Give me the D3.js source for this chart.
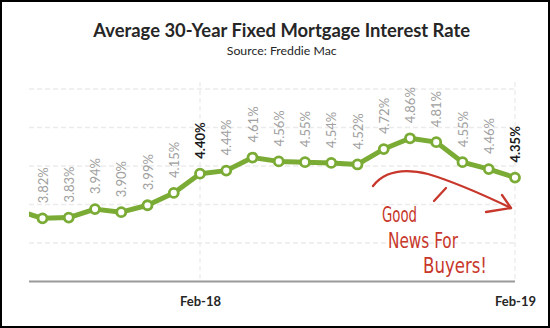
<!DOCTYPE html>
<html>
<head>
<meta charset="utf-8">
<script src="https://cdn.jsdelivr.net/npm/d3@7"></script>
<style>
  html, body { margin: 0; padding: 0; background: #fff; }
  svg { display: block; }
</style>
</head>
<body>
<script>
// ---- data ----
const months = ["Jul-17","Aug-17","Sep-17","Oct-17","Nov-17","Dec-17","Jan-18","Feb-18",
                "Mar-18","Apr-18","May-18","Jun-18","Jul-18","Aug-18","Sep-18","Oct-18",
                "Nov-18","Dec-18","Jan-19","Feb-19"];
const rates = [3.93, 3.82, 3.83, 3.94, 3.90, 3.99, 4.15, 4.40,
               4.44, 4.61, 4.56, 4.55, 4.54, 4.52, 4.72, 4.86,
               4.81, 4.55, 4.46, 4.35];
const labelled = [false, true, true, true, true, true, true, true,
                  true, true, true, true, true, true, true, true,
                  true, true, true, true];
const boldMonths = ["Feb-18", "Feb-19"];
const tickLabels = ["Feb-18", "Feb-19"];
const gridValues = [3.5, 4.0, 4.5, 5.0, 5.5];
const titleText = "Average 30-Year Fixed Mortgage Interest Rate";
const subtitleText = "Source: Freddie Mac";
const noteLines = ["Good", "News For", "Buyers!"];

// ---- layout ----
const W = 550, H = 328;
const plotLeft = 29, plotRight = 515, plotTop = 82, plotBottom = 281.5;
const green = "#7aab34", red = "#c8372b";

const svg = d3.select("body").append("svg").attr("width", W).attr("height", H);
svg.append("rect").attr("x", 1).attr("y", 1).attr("width", W - 2).attr("height", H - 2)
  .attr("fill", "#fff").attr("stroke", "#000").attr("stroke-width", 2);

const x = d3.scalePoint().domain(months).range([16.25, 515]);
const y = d3.scaleLinear().domain([3.0, 5.5]).range([plotBottom, 89]);

// title
function fitText(sel, target) {
  const w = sel.node().getComputedTextLength();
  const fs = parseFloat(sel.attr("font-size"));
  sel.attr("font-size", fs * target / w);
}
const title = svg.append("text").attr("x", 281.7).attr("y", 37.3).attr("text-anchor", "middle")
  .attr("font-family", "Lato, 'Open Sans', sans-serif").attr("font-weight", 700)
  .attr("font-size", 18).attr("fill", "#262626").text(titleText);
fitText(title, 377);
const sub = svg.append("text").attr("x", 281.7).attr("y", 55).attr("text-anchor", "middle")
  .attr("font-family", "Lato, 'Open Sans', sans-serif")
  .attr("font-size", 13).attr("fill", "#262626").text(subtitleText);
fitText(sub, 110);

// gridlines
svg.append("g").selectAll("line").data(gridValues).join("line")
  .attr("x1", plotLeft).attr("x2", plotRight)
  .attr("y1", d => y(d)).attr("y2", d => y(d))
  .attr("stroke", "#ebebeb").attr("stroke-width", 1.3).attr("stroke-dasharray", "5,3");
svg.append("g").selectAll("line").data(tickLabels).join("line")
  .attr("x1", d => x(d)).attr("x2", d => x(d))
  .attr("y1", plotTop).attr("y2", plotBottom)
  .attr("stroke", "#ebebeb").attr("stroke-width", 1.3).attr("stroke-dasharray", "5,3");

// x axis
const xAxis = d3.axisBottom(x).tickValues(tickLabels).tickSize(0).tickPadding(15);
const gx = svg.append("g").attr("transform", `translate(0,${plotBottom})`).call(xAxis);
gx.select(".domain").remove();
gx.selectAll("text").attr("font-family", "Lato, 'Open Sans', sans-serif")
  .attr("font-weight", 700).attr("font-size", 13).attr("fill", "#262626");
svg.append("line").attr("x1", plotLeft).attr("x2", plotRight)
  .attr("y1", plotBottom).attr("y2", plotBottom)
  .attr("stroke", "#9a9a9a").attr("stroke-width", 2);

// clip
svg.append("clipPath").attr("id", "clip").append("rect")
  .attr("x", plotLeft).attr("y", 60).attr("width", plotRight - plotLeft + 20).attr("height", plotBottom - 60);

const pts = months.map((m, i) => ({ m, v: rates[i], lab: labelled[i] }));

svg.append("path").datum(pts).attr("clip-path", "url(#clip)")
  .attr("d", d3.line().x(d => x(d.m)).y(d => y(d.v)))
  .attr("fill", "none").attr("stroke", green).attr("stroke-width", 5)
  .attr("stroke-linejoin", "round");

svg.append("g").attr("clip-path", "url(#clip)").selectAll("circle").data(pts).join("circle")
  .attr("cx", d => x(d.m)).attr("cy", d => y(d.v)).attr("r", 4.5)
  .attr("fill", "#fff").attr("stroke", green).attr("stroke-width", 2.8);

// value labels
svg.append("g").selectAll("text").data(pts.filter(d => d.lab)).join("text")
  .attr("transform", d => `translate(${x(d.m) + 0.5},${y(d.v) - 15}) rotate(-90)`)
  .attr("dy", "0.35em")
  .attr("font-family", "Lato, 'Open Sans', sans-serif")
  .attr("font-size", 13)
  .attr("font-weight", d => boldMonths.includes(d.m) ? 700 : 400)
  .attr("fill", d => boldMonths.includes(d.m) ? "#1a1a1a" : "#a0a0a0")
  .text(d => d.v.toFixed(2) + "%");

// annotation
const ann = svg.append("g").attr("stroke", red).attr("fill", "none")
  .attr("stroke-width", 2.3).attr("stroke-linecap", "round").attr("stroke-linejoin", "round");
ann.append("path").attr("d", "M373,186 C384,172 403,168 428,174 C458,183 488,197 511,208");
ann.append("path").attr("d", "M502,195 L511,208 L486,212");
ann.append("path").attr("d", "M446,188 L434,201");

const noteX = [382, 388, 423], noteY = [222, 248, 273], noteW = [35, 70, 64];
svg.append("g").selectAll("text").data(noteLines).join("text")
  .attr("x", (d, i) => noteX[i]).attr("y", (d, i) => noteY[i])
  .attr("textLength", (d, i) => noteW[i]).attr("lengthAdjust", "spacingAndGlyphs")
  .attr("font-family", "'Liberation Sans Narrow', 'DejaVu Sans Condensed', 'DejaVu Sans', sans-serif")
  .attr("font-size", 22).attr("fill", red)
  .text(d => d);
</script>
</body>
</html>
